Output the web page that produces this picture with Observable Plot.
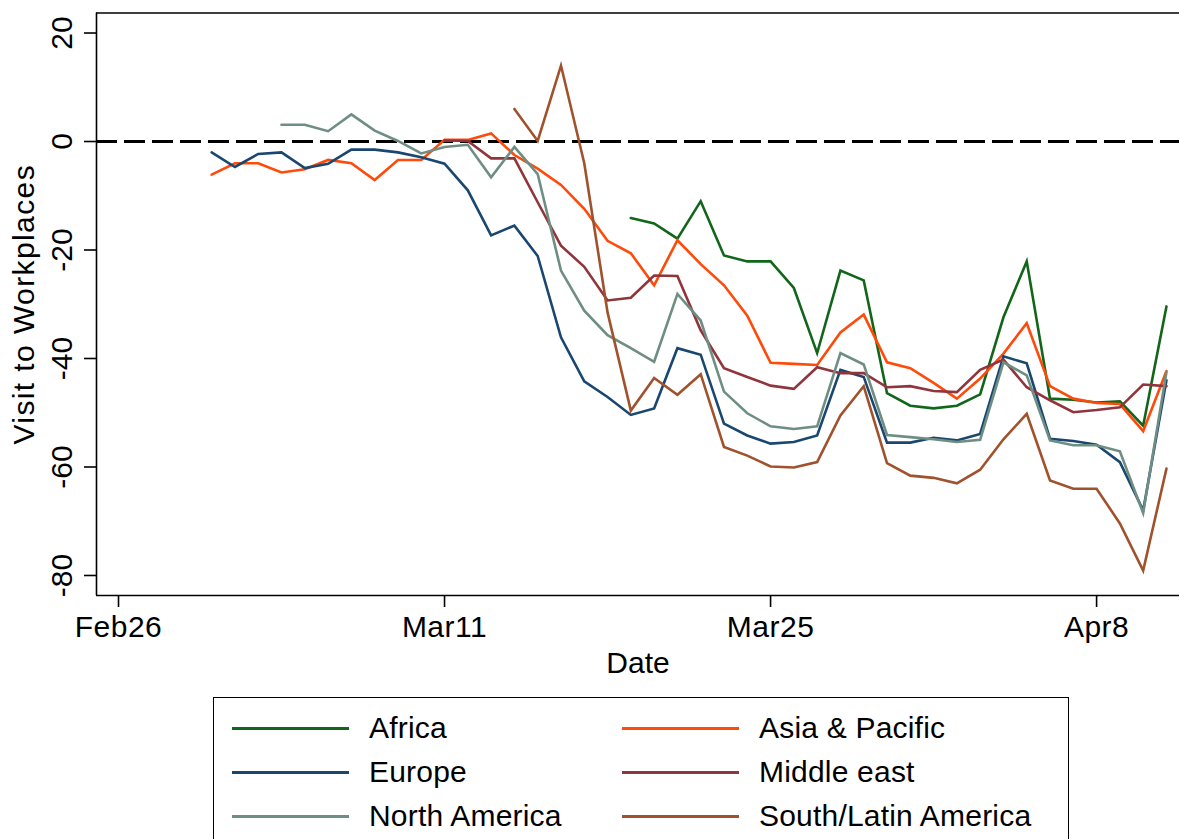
<!DOCTYPE html>
<html><head><meta charset="utf-8">
<script src="https://cdn.jsdelivr.net/npm/d3@7"></script>
<script src="https://cdn.jsdelivr.net/npm/@observablehq/plot@0.6"></script>
<style>
body{margin:0;background:#fff;font-family:"Liberation Sans",Arial,Helvetica,sans-serif;}
#wrap{position:relative;width:1179px;height:839px;overflow:hidden;background:#fff}
#chart svg{display:block}
#chart svg g[aria-label="y-axis label"] text{letter-spacing:1.4px}
#chart svg g[aria-label="x-axis tick label"] text{letter-spacing:0.5px}
#legend{position:absolute;left:213px;top:697px;width:856px;height:170px;border:1.5px solid #000;box-sizing:border-box;padding:8px 0 0 18px;display:grid;grid-template-columns:390px 420px;grid-auto-rows:44px;font-size:30px;color:#000}
.item{display:flex;align-items:center;white-space:nowrap}
.item span{letter-spacing:0.2px}
.sw{width:117px;height:3px;margin-right:20px;flex:none}
</style></head>
<body><div id="wrap"><div id="chart"></div><div id="legend"></div></div>
<script>
const dates = ["2020-03-01","2020-03-02","2020-03-03","2020-03-04","2020-03-05","2020-03-06","2020-03-07","2020-03-08","2020-03-09","2020-03-10",
"2020-03-11","2020-03-12","2020-03-13","2020-03-14","2020-03-15","2020-03-16","2020-03-17","2020-03-18","2020-03-19","2020-03-20",
"2020-03-21","2020-03-22","2020-03-23","2020-03-24","2020-03-25","2020-03-26","2020-03-27","2020-03-28","2020-03-29","2020-03-30",
"2020-03-31","2020-04-01","2020-04-02","2020-04-03","2020-04-04","2020-04-05","2020-04-06","2020-04-07","2020-04-08","2020-04-09",
"2020-04-10","2020-04-11"];
const regions = ["Africa","Asia & Pacific","Europe","Middle east","North America","South/Latin America"];
const colors = ["#12661a","#ff4a0a","#1a476f","#90353b","#6e8e84","#a0522d"];
const _ = null;
const africa = [_,_,_,_,_,_,_,_,_,_, _,_,_,_,_,_,_,_,
  -14.1,-15.1,-17.9,-11.0,-21.0,-22.1,-22.1,-27.0,-39.0,-23.8,-25.6,-46.4,-48.7,-49.2,-48.7,-46.6,-32.4,-22.1,-47.4,-47.6,-48.1,-47.9,-52.4,-30.4];
const asiaPacific = [-6.1,-4.0,-4.0,-5.7,-5.1,-3.4,-4.0,-7.1,-3.4,-3.4,0.3,0.3,1.5,-2.5,-5.0,-8.0,-12.4,-18.3,-20.6,-26.5,-18.2,-22.6,-26.5,-32.1,
  -40.8,-41.0,-41.2,-35.2,-31.9,-40.7,-41.8,-44.5,-47.4,-43.7,-39.1,-33.5,-45.1,-47.4,-48.2,-48.4,-53.4,-42.3];
const europe = [-2.0,-4.7,-2.3,-2.0,-4.9,-4.1,-1.5,-1.5,-2.0,-2.9,-4.1,-9.0,-17.3,-15.5,-21.1,-36.1,-44.2,-47.1,-50.4,-49.2,-38.1,-39.3,-52.0,-54.2,
  -55.7,-55.4,-54.2,-42.1,-43.4,-55.5,-55.5,-54.6,-55.1,-53.9,-39.6,-40.9,-54.8,-55.2,-55.9,-59.1,-68.0,-44.0];
const middleEast = [_,_,_,_,_,_,_,_,_,_,
  0.2,0.1,-3.1,-3.1,-11.2,-19.2,-23.1,-29.3,-28.8,-24.7,-24.8,-34.8,-41.8,-43.4,-45.0,-45.6,-41.6,-42.7,-42.7,-45.3,-45.1,-46.0,-46.2,-42.1,-40.2,-45.3,-47.7,-49.9,-49.5,-49.0,-44.8,-45.1];
const northAmerica = [_,_,_,
  3.1,3.1,1.9,5.0,2.0,0.1,-2.2,-1.0,-0.6,-6.6,-1.0,-6.0,-23.8,-31.2,-35.7,-38.1,-40.6,-28.1,-33.0,-46.1,-50.1,-52.5,-53.0,-52.5,-39.0,-41.1,-54.1,-54.5,-54.9,-55.4,-55.0,-40.7,-43.1,-55.1,-56.0,-56.0,-57.1,-68.5,-42.5];
const southLatin = [_,_,_,_,_,_,_,_,_,_,_,_,_,
  6.0,0.1,14.0,-4.0,-31.5,-49.6,-43.6,-46.7,-42.9,-56.3,-57.9,-59.9,-60.1,-59.1,-50.5,-45.1,-59.3,-61.6,-62.0,-63.0,-60.5,-54.9,-50.2,-62.5,-64.0,-64.0,-70.4,-79.1,-60.3];
const seriesValues = [africa, asiaPacific, europe, middleEast, northAmerica, southLatin];
const xTicks = ["2020-02-26","2020-03-11","2020-03-25","2020-04-08"];
const yTicks = [-80,-60,-40,-20,0,20];

const parse = d3.utcParse("%Y-%m-%d");
const rows = [];
regions.forEach((r, i) => seriesValues[i].forEach((v, j) => rows.push({region: r, date: parse(dates[j]), value: v})));

const DAY = 864e5;
const t0 = parse(xTicks[0]).getTime();
const xDomain = [new Date(t0 - 0.945 * DAY), new Date(t0 + 45.56 * DAY)];
const yDomain = [-83.69, 23.69];

const chart = Plot.plot({
  width: 1179, height: 690,
  marginLeft: 96, marginRight: 0, marginTop: 12.5, marginBottom: 95,
  style: {fontFamily: '"Liberation Sans", Arial, Helvetica, sans-serif', fontSize: "30px", color: "#000", background: "#fff"},
  x: {type: "utc", domain: xDomain},
  y: {domain: yDomain},
  color: {domain: regions, range: colors},
  marks: [
    Plot.ruleY([0], {stroke: "#000", strokeWidth: 3, strokeDasharray: "21,7"}),
    Plot.lineY(rows, {x: "date", y: "value", z: "region", stroke: "region", strokeWidth: 2.6, strokeLinejoin: "miter", strokeMiterlimit: 4}),
    Plot.ruleY([yDomain[1]], {stroke: "#000", strokeWidth: 1.6}),
    Plot.ruleY([yDomain[0]], {stroke: "#000", strokeWidth: 1.6}),
    Plot.ruleX([xDomain[0]], {stroke: "#000", strokeWidth: 1.6}),
    Plot.axisX({ticks: xTicks.map(parse), tickFormat: d3.utcFormat("%b%-d"), tickSize: 12, tickPadding: 8, fontSize: 30, stroke: "#000", strokeWidth: 1.6,
      label: "Date", labelAnchor: "center", labelArrow: "none", labelOffset: 77}),
    Plot.axisY({ticks: yTicks, tickFormat: d => String(d), tickSize: 12, tickPadding: 13, tickRotate: -90, fontSize: 30, stroke: "#000", strokeWidth: 1.6,
      label: "Visit to Workplaces", labelAnchor: "center", labelArrow: "none", labelOffset: 84})
  ]
});
document.getElementById("chart").appendChild(chart);

const legend = document.getElementById("legend");
regions.forEach((r, i) => {
  const it = document.createElement("div");
  it.className = "item";
  const sw = document.createElement("div");
  sw.className = "sw";
  sw.style.background = colors[i];
  const tx = document.createElement("span");
  tx.textContent = r;
  it.appendChild(sw); it.appendChild(tx);
  legend.appendChild(it);
});
</script></body></html>
